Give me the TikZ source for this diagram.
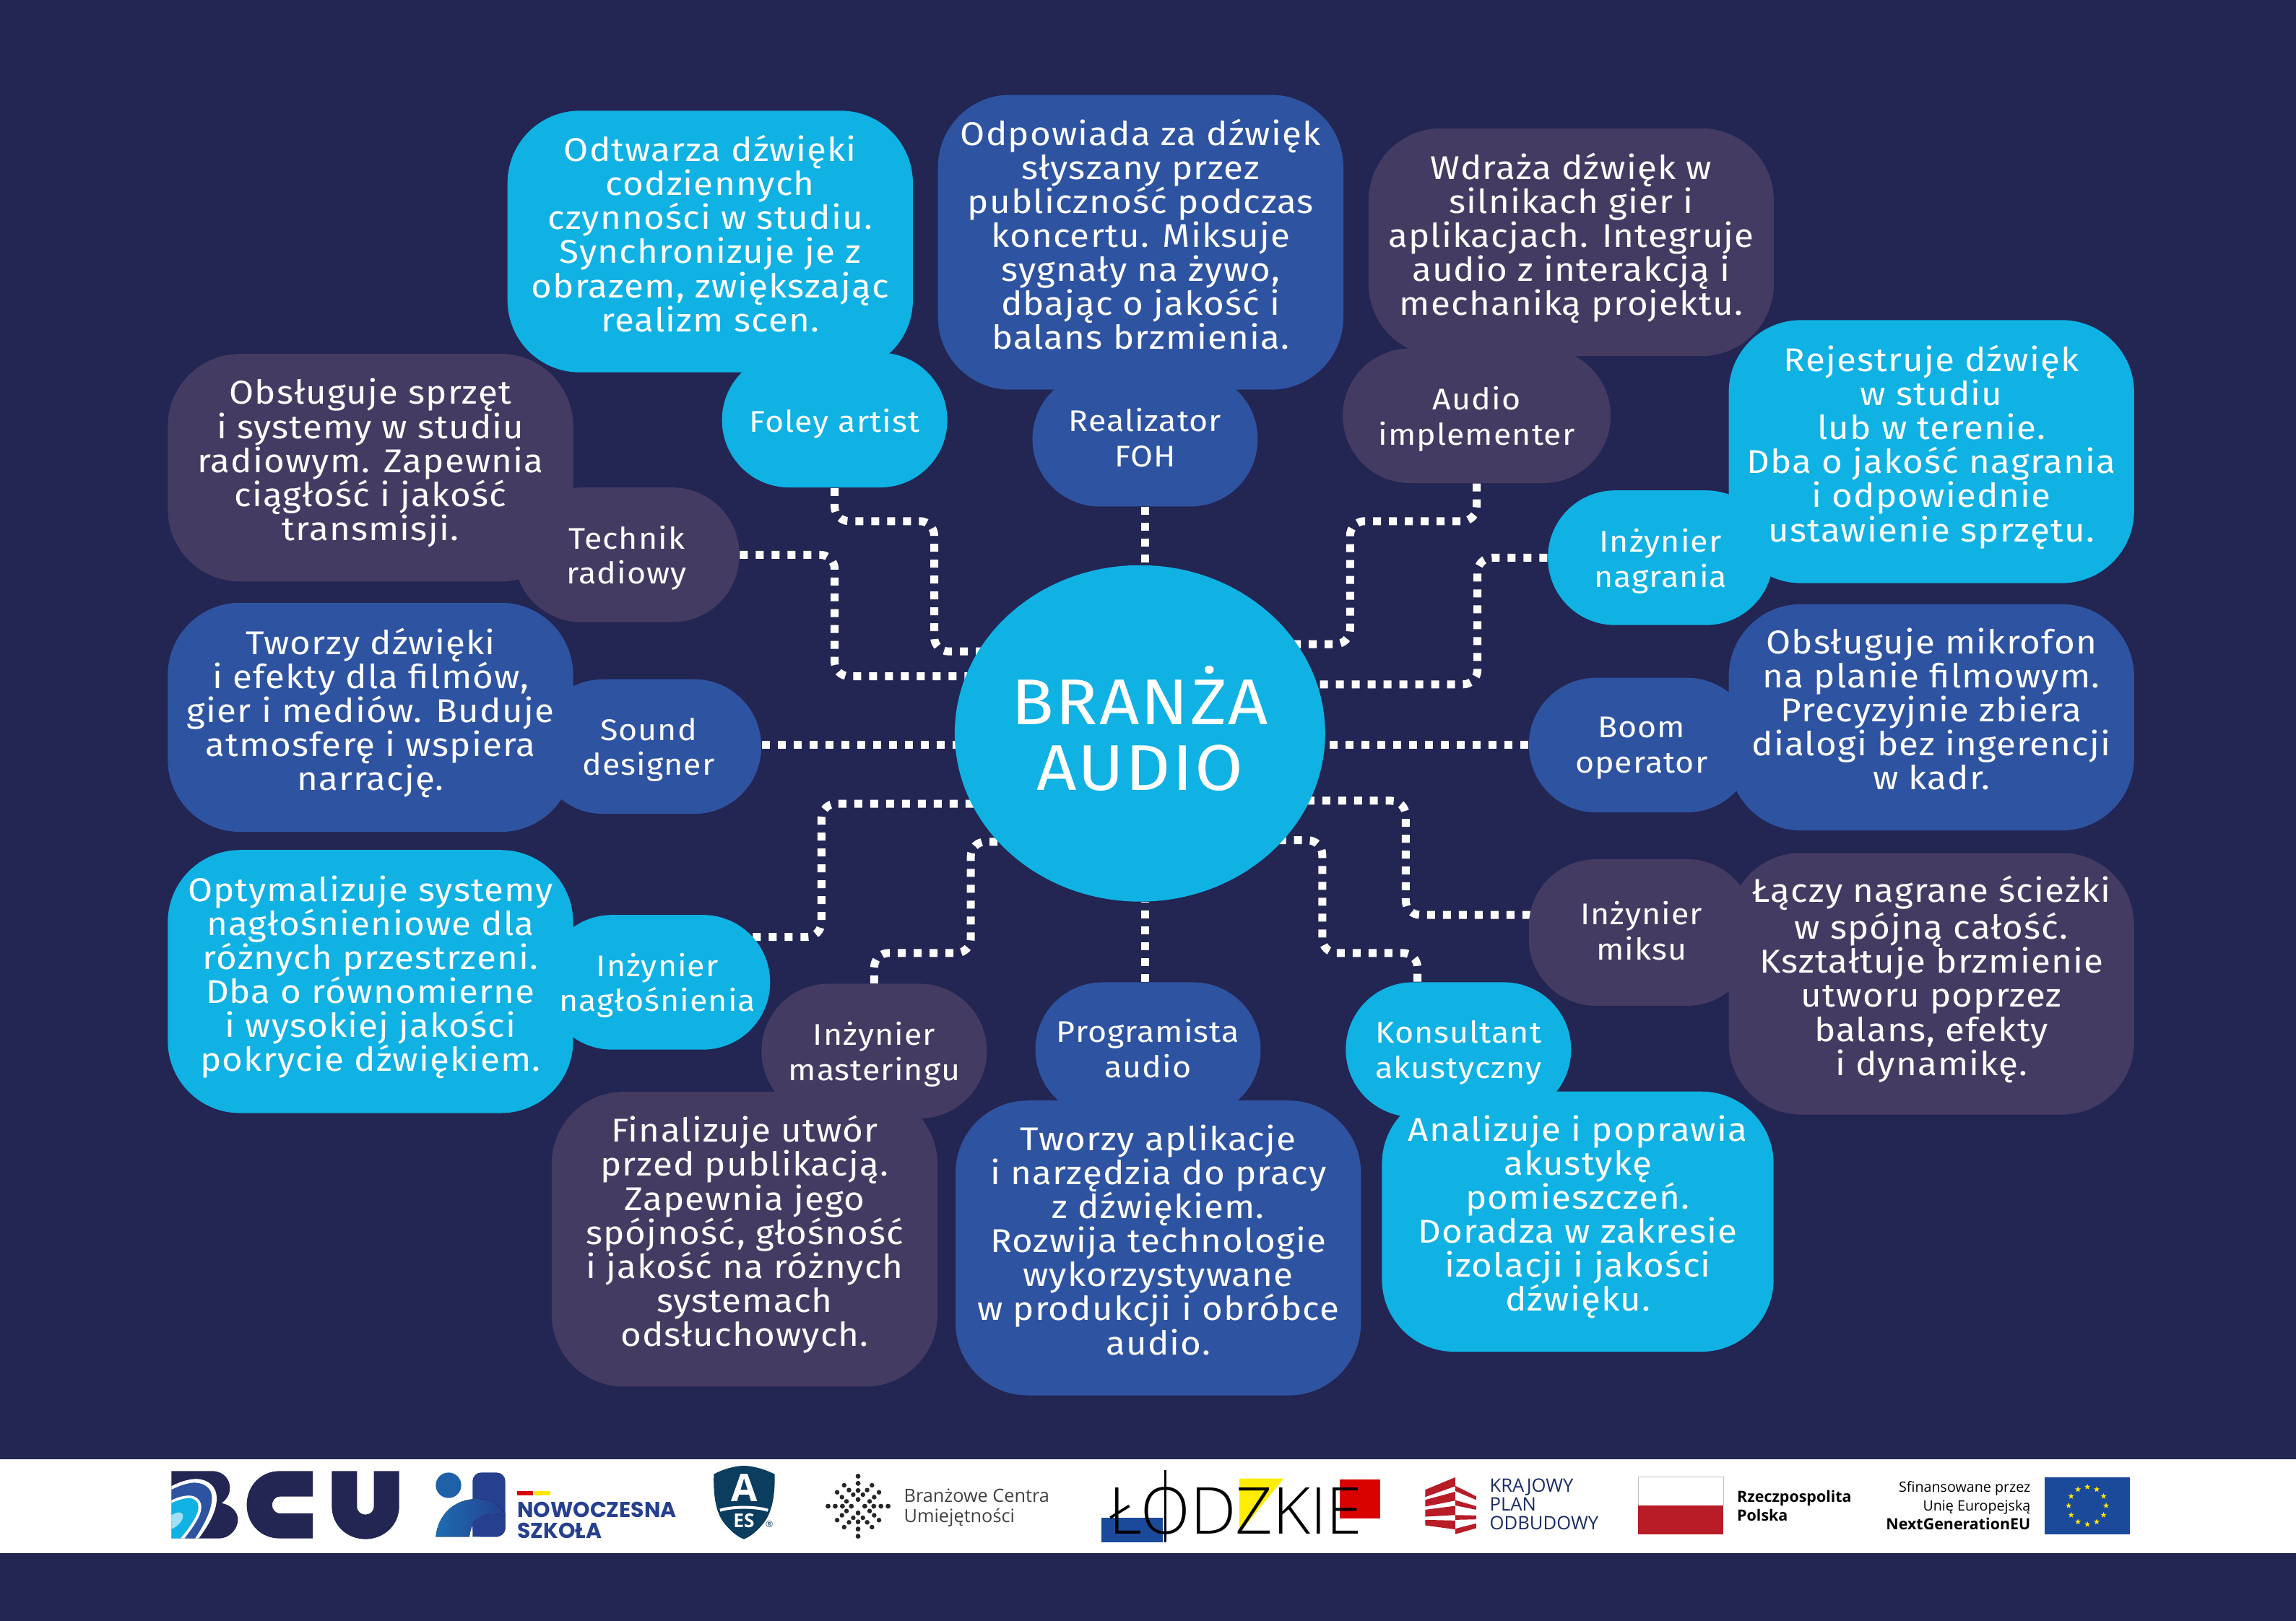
\documentclass[tikz,border=0pt]{standalone}
\usepackage{fontspec}
\usetikzlibrary{backgrounds,shapes.geometric}
\setmainfont{Fira Sans}[LetterSpace=2.5,FakeStretch=1.08]
\newfontfamily\logofont{Open Sans}
\newfontfamily\szkolafont{Poppins}
\newfontfamily\cienkifont{Open Sans Light}
\definecolor{tlo}{HTML}{232552}
\definecolor{jasny}{HTML}{10B1E3}
\definecolor{sredni}{HTML}{2E53A1}
\definecolor{fiolet}{HTML}{443B63}
\definecolor{szkola}{HTML}{263F8F}
\definecolor{tarcza}{HTML}{0A3D5E}
\definecolor{czerwony}{HTML}{B71C27}
\definecolor{unia}{HTML}{1C4A9B}
\tikzset{
  infoBox/.style={rectangle,minimum width=5.6cm,inner sep=0pt,align=center,text=white,text depth=6.5pt,
    font=\fontsize{13}{13.4}\selectfont},
  roleBox/.style={rectangle,rounded corners=0.93cm,minimum width=3.12cm,minimum height=1.865cm,inner sep=0pt,align=center,text=white,text depth=0pt,
    font=\fontsize{11.8}{13.9}\selectfont},
  hubNode/.style={ellipse,fill=jasny,minimum width=5.13cm,minimum height=4.66cm,inner sep=0pt,align=center,text=white,text depth=4pt,
    font=\fontsize{25.5}{26}\selectfont},
  link/.style={white,line width=0.11cm,dash pattern=on 0.11cm off 0.11cm,rounded corners=2mm},
  logotxt/.style={anchor=west,inner sep=0pt,align=left,text=black!75,font=\logofont\fontsize{7.2}{8}\selectfont}
}
\begin{document}
\begin{tikzpicture}[x=0.020274cm,y=-0.020274cm]
    \useasboundingbox (0,0) rectangle (1568,1107.3);

    % Role
    \node[roleBox,fill=jasny] (foley) at (570,287) {Foley artist};
    \node[roleBox,fill=sredni,text depth=1.5pt] (foh) at (782,300) {Realizator\\FOH};
    \node[roleBox,fill=fiolet,minimum width=3.71cm] (impl) at (1008.5,284) {Audio\\implementer};
    \node[roleBox,fill=jasny] (nagr) at (1134,381) {Inżynier\\nagrania};
    \node[roleBox,fill=sredni] (boom) at (1121,509) {Boom\\operator};
    \node[roleBox,fill=fiolet,minimum height=2.03cm,text depth=1.5pt] (miks) at (1121,637) {Inżynier\\miksu};
    \node[roleBox,fill=jasny] (kons) at (996,717) {Konsultant\\akustyczny};
    \node[roleBox,fill=sredni,text depth=1pt] (prog) at (784,717) {Programista\\audio};
    \node[roleBox,fill=fiolet] (mast) at (597,718) {Inżynier\\masteringu};
    \node[roleBox,fill=jasny] (nagl) at (449,671) {Inżynier\\nagłośnienia};
    \node[roleBox,fill=sredni] (sound) at (443,510) {Sound\\designer};
    \node[roleBox,fill=fiolet] (radio) at (428,379) {Technik\\radiowy};

    % Opisy
    \node[infoBox,minimum height=3.61cm] (foleyOpis) at (485,165) {Odtwarza dźwięki\\codziennych\\czynności w studiu.\\Synchronizuje je z\\obrazem, zwiększając\\realizm scen.};
    \node[infoBox,minimum height=4.07cm] (fohOpis) at (779,165.5) {Odpowiada za dźwięk\\słyszany przez\\publiczność podczas\\koncertu. Miksuje\\sygnały na żywo,\\dbając o jakość i\\balans brzmienia.};
    \node[infoBox,minimum height=3.14cm] (implOpis) at (1073,165.5) {Wdraża dźwięk w\\silnikach gier i\\aplikacjach. Integruje\\audio z interakcją i\\mechaniką projektu.};
    \node[infoBox,minimum height=3.63cm] (nagrOpis) at (1319,308.5) {Rejestruje dźwięk\\w studiu\\lub w terenie.\\Dba o jakość nagrania\\i odpowiednie\\ustawienie sprzętu.};
    \node[infoBox,minimum height=3.12cm] (boomOpis) at (1319,490) {Obsługuje mikrofon\\na planie filmowym.\\Precyzyjnie zbiera\\dialogi bez ingerencji\\w kadr.};
    \node[infoBox,minimum height=3.61cm] (miksOpis) at (1319,672) {Łączy nagrane ścieżki\\w spójną całość.\\Kształtuje brzmienie\\utworu poprzez\\balans, efekty\\i dynamikę.};
    \node[infoBox,minimum width=5.41cm,minimum height=3.59cm] (konsOpis) at (1077.5,834.5) {Analizuje i poprawia\\akustykę\\pomieszczeń.\\Doradza w zakresie\\izolacji i jakości\\dźwięku.};
    \node[infoBox,minimum height=4.07cm] (progOpis) at (791,852.5) {Tworzy aplikacje\\i narzędzia do pracy\\z dźwiękiem.\\Rozwija technologie\\wykorzystywane\\w produkcji i obróbce\\audio.};
    \node[infoBox,minimum width=5.33cm,minimum height=4.07cm] (mastOpis) at (508.5,846.5) {Finalizuje utwór\\przed publikacją.\\Zapewnia jego\\spójność, głośność\\i jakość na różnych\\systemach\\odsłuchowych.};
    \node[infoBox,minimum height=3.63cm] (naglOpis) at (253,670.5) {Optymalizuje systemy\\nagłośnieniowe dla\\różnych przestrzeni.\\Dba o równomierne\\i wysokiej jakości\\pokrycie dźwiękiem.};
    \node[infoBox,minimum height=3.16cm] (soundOpis) at (253,490) {Tworzy dźwięki\\i efekty dla filmów,\\gier i mediów. Buduje\\atmosferę i wspiera\\narrację.};
    \node[infoBox,minimum height=3.14cm] (radioOpis) at (253,319.5) {Obsługuje sprzęt\\i systemy w studiu\\radiowym. Zapewnia\\ciągłość i jakość\\transmisji.};

    \node[hubNode] (hub) at (778.5,501) {BRANŻA\\AUDIO};

    % Tlo, polaczenia i wypelnienia opisow
    \begin{scope}[on background layer]
      \fill[tlo] (0,0) rectangle (1568,1107.3);
      \fill[white] (0,997) rectangle (1568,1061);
      \draw[link] (foley.south) -- (570,356) -- (638,356) -- (638,445) -- (hub |- 0,445);
      \draw[link] (foh.south) -- (hub.north -| foh.south);
      \draw[link] (impl.south) -- (1008.5,356) -- (922,356) -- (922,440) -- (hub |- 0,440);
      \draw[link] (nagr.west) -- (1009,381) -- (1009,467.5) -- (hub |- 0,467.5);
      \draw[link] (boom.west) -- (hub |- boom.west);
      \draw[link] (miks |- 0,625) -- (960,625) -- (960,547) -- (hub |- 0,547);
      \draw[link] (kons.north -| 968,0) -- (968,651) -- (903,651) -- (903,574) -- (hub |- 0,574);
      \draw[link] (prog.north -| 782,0) -- (hub.south -| 782,0);
      \draw[link] (mast.north) -- (597,651) -- (663,651) -- (663,575) -- (hub |- 0,575);
      \draw[link] (nagl |- 0,640) -- (561,640) -- (561,549) -- (hub |- 0,549);
      \draw[link] (sound.east |- 0,509) -- (hub |- 0,509);
      \draw[link] (radio.east) -- (570,379) -- (570,462) -- (hub |- 0,462);
      \foreach \n/\c in {foleyOpis/jasny,fohOpis/sredni,implOpis/fiolet,nagrOpis/jasny,boomOpis/sredni,miksOpis/fiolet,konsOpis/jasny,progOpis/sredni,mastOpis/fiolet,naglOpis/jasny,soundOpis/sredni,radioOpis/fiolet}
        \fill[\c,rounded corners=1cm] (\n.south west) rectangle (\n.north east);
    \end{scope}

    % Logo BCU
    \fill[tlo] (117.1,1004.9) -- (145,1004.9) .. controls (153,1005) and (157,1011) .. (157,1016) .. controls (157,1021) and (155,1024) .. (151.3,1026.8) .. controls (158,1028) and (162.5,1033) .. (162.5,1038) .. controls (162.5,1045) and (156,1050.9) .. (150,1050.9) -- (117.1,1050.9) -- cycle;
    \fill[white] (117.1,1015.2) .. controls (125,1011) and (132,1010) .. (135,1010.3) .. controls (143,1011) and (148,1016) .. (148,1023.5) .. controls (148,1032) and (143,1041) .. (135.7,1050.9) -- (117.1,1050.9) -- cycle;
    \fill[sredni] (117.1,1017.7) .. controls (124,1014) and (130,1012.8) .. (133,1012.8) .. controls (140,1013) and (144.7,1017) .. (144.7,1023) .. controls (144.7,1032) and (139,1042) .. (133.2,1050.9) -- (117.1,1050.9) -- cycle;
    \fill[white] (117.1,1024.8) .. controls (122,1022.5) and (126,1021.6) .. (129,1021.6) .. controls (134,1021.6) and (137.5,1025) .. (137.5,1029.5) .. controls (137.5,1036) and (131,1044) .. (126,1050.9) -- (117.1,1050.9) -- cycle;
    \fill[jasny] (117.1,1026.8) .. controls (122,1024.5) and (126,1023.4) .. (129,1023.4) .. controls (133,1023.4) and (135.5,1026) .. (135.5,1029.5) .. controls (135.5,1035) and (129,1044) .. (123.3,1050.9) -- (117.1,1050.9) -- cycle;
    \fill[jasny!40] (117.1,1035) .. controls (122,1032) and (125,1033) .. (125,1035.5) .. controls (125,1039) and (121,1043) .. (117.1,1044.5) -- cycle;
    \fill[tlo] (213.6,1004.9) -- (191,1004.9) .. controls (178,1004.9) and (168.5,1015) .. (168.5,1028) .. controls (168.5,1041) and (178,1050.9) .. (191,1050.9) -- (213.6,1050.9) -- (213.6,1033.8) -- (191.5,1033.8) .. controls (184,1033.8) and (184,1022.3) .. (191.5,1022.3) -- (213.6,1022.3) -- cycle;
    \fill[tlo] (226.6,1004.9) -- (243.8,1004.9) -- (243.8,1029) .. controls (243.8,1036.5) and (255.3,1036.5) .. (255.3,1029) -- (255.3,1004.9) -- (272.6,1004.9) -- (272.6,1029) .. controls (272.6,1042) and (262,1051.4) .. (249.6,1051.4) .. controls (237,1051.4) and (226.6,1042) .. (226.6,1029) -- cycle;

    % Nowoczesna Szkola
    \fill[szkola!70!jasny] (306.3,1014.6) circle (8.7);
    \fill[szkola,rounded corners=1.2mm] (322.7,1049.8) -- (322.7,1005.9) -- (345.1,1005.9) -- (345.1,1049.8) -- cycle;
    \fill[left color=jasny!40!szkola,right color=szkola] (297.6,1049.8) .. controls (299,1035) and (310,1024) .. (325.5,1024) .. controls (335,1024) and (341,1028) .. (345,1034) -- (345,1036) .. controls (335,1032) and (322,1034) .. (320.6,1049.8) -- cycle;
    \fill[szkola] (322.7,1049.8) -- (322.7,1040) .. controls (328,1034) and (338,1034) .. (345.1,1036.5) -- (345.1,1045) -- (340,1049.8) -- cycle;
    \fill[red!85!black] (353,1018.5) rectangle (364,1021.7);
    \fill[yellow!90!orange] (365,1018.5) rectangle (376,1021.7);
    \node[anchor=west,inner sep=0pt,align=left,text=szkola,font=\szkolafont\bfseries\fontsize{8.5}{8.1}\selectfont] (szkola) at (353,1038.5) {NOWOCZESNA\\SZKOŁA};

    % Tarcza
    \fill[tarcza] (487.5,1007) .. controls (494,1003.5) and (502,1001.3) .. (508,1001.3) .. controls (514,1001.3) and (522,1003.5) .. (529,1007) .. controls (529.5,1022) and (527,1034) .. (521,1041) .. controls (517,1046) and (512,1050) .. (508,1051.4) .. controls (504,1050) and (499,1046) .. (495,1041) .. controls (489,1034) and (487,1022) .. cycle;
    \draw[white,line width=0.4mm] (491.7,1031.7) .. controls (500,1029) and (516,1029) .. (524.5,1031.7);
    \node[text=white,inner sep=0pt,font=\logofont\bfseries\fontsize{15}{15}\selectfont] (aes1) at (508.5,1016.2) {A};
    \node[text=white,inner sep=0pt,font=\logofont\bfseries\fontsize{7.5}{8}\selectfont] (aes2) at (508,1038.7) {ES};
    \node[text=tarcza,inner sep=0pt,font=\logofont\fontsize{3.5}{4}\selectfont] (aes3) at (525.4,1041.2) {®};

    % Branzowe Centra
    \foreach \a/\b in {0/20.5,0/15.6,0/10.7,0/4.6,20.5/0,15.6/0,10.7/0,4.6/0,14.3/9.5,11/6.2,7.9/3.3,9.5/14.3,6.2/11,3.3/7.9}
      \foreach \p/\q in {1/1,1/-1,-1/1,-1/-1}
        \fill[black!85] ({586+\p*\a},{1028.9+\q*\b}) circle (1.6);
    \node[logotxt] (centra) at (617,1030) {Branżowe Centra\\Umiejętności};

    % Lodzkie
    \fill[unia] (752,1036.7) rectangle (794,1053.6);
    \fill[yellow!95!orange] (846.5,1010) -- (876.6,1010) -- (846.5,1047) -- cycle;
    \fill[red!85!black] (915,1010.6) rectangle (942.6,1037.3);
    \node[anchor=base west,inner sep=0pt,font=\cienkifont\fontsize{25.5}{26}\selectfont] (lodzkie) at (757,1048) {ŁODZKIE};
    \draw[black,line width=0.3mm] (795.6,1004) -- (795.6,1053.6);

    % KPO
    \begin{scope}[shift={(961.8,1001.3)},x=0.00333cm,y=-0.00333cm]
      \foreach \a/\b/\c/\d/\e/\f/\g/\h in {70/100/195/48/195/85/70/130,70/142/195/108/195/145/70/170,70/183/195/167/195/205/70/212,70/225/195/228/195/265/70/248,195/83/282/127/282/142/195/105,195/143/282/168/282/183/195/165,195/205/282/207/282/223/195/225,195/262/282/240/282/260/195/285}
        \fill[czerwony] (\a,\b) -- (\c,\d) -- (\e,\f) -- (\g,\h) -- cycle;
    \end{scope}
    \node[logotxt,text=szkola!70!black,font=\logofont\fontsize{7.3}{7.4}\selectfont] (kpo) at (1017,1027.7) {KRAJOWY\\PLAN\\ODBUDOWY};

    % Flaga
    \fill[czerwony] (1118.8,1028.5) rectangle (1177,1048);
    \draw[black!25,line width=0.1mm] (1118.8,1028.5) -- (1118.8,1008.8) -- (1177,1008.8) -- (1177,1028.5);
    \node[logotxt,font=\logofont\bfseries\fontsize{6.1}{7.5}\selectfont,text=black] (rp) at (1186,1028.5) {Rzeczpospolita\\Polska};

    % UE
    \node[anchor=east,inner sep=0pt,align=right,text=black,font=\logofont\fontsize{5.6}{7.4}\selectfont] (ue) at (1387,1028.5) {Sfinansowane przez\\Unię Europejską\\{\fontsize{6.1}{7.4}\selectfont\bfseries NextGenerationEU}};
    \fill[unia] (1396.5,1009) rectangle (1454.6,1048);
    \foreach \k in {0,30,...,330}
      \node[star,star points=5,star point ratio=2.4,fill=yellow!90!orange,inner sep=0pt,minimum size=2.4pt] (gw\k) at ({1425.5+12.8*cos(\k)},{1028.5+12.8*sin(\k)}) {};
\end{tikzpicture}
\end{document}
